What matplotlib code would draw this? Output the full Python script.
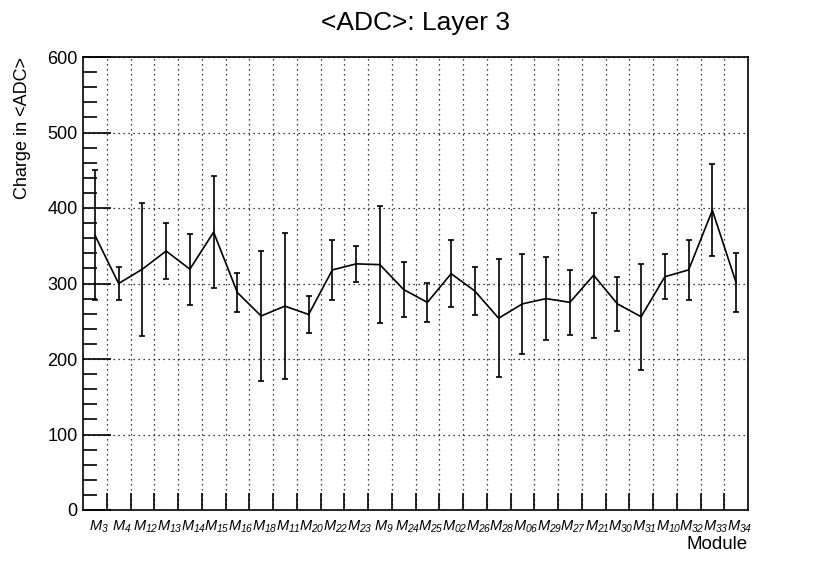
import matplotlib
matplotlib.use("Agg")
import matplotlib.pyplot as plt
from matplotlib.ticker import MultipleLocator, FixedLocator, NullFormatter
import numpy as np

plt.rcParams['font.family'] = ['Liberation Sans', 'DejaVu Sans']
plt.rcParams['mathtext.fontset'] = 'custom'
plt.rcParams['mathtext.rm'] = 'Liberation Sans:italic'
plt.rcParams['mathtext.it'] = 'Liberation Sans:italic'

modules = ["3", "4", "12", "13", "14", "15", "16", "18", "11", "20", "22", "23", "9", "24",
           "25", "02", "26", "28", "06", "29", "27", "21", "30", "31", "10", "32", "33", "34"]
charge = [364, 300, 319, 343, 319, 368, 288, 257, 270, 259, 318, 326, 325, 292,
          275, 313, 290, 254, 273, 280, 275, 311, 273, 256, 309, 318, 397, 301]
charge_err = [86, 22, 88, 37, 47, 74, 26, 86, 97, 24, 40, 24, 77, 36,
              26, 44, 32, 78, 66, 55, 43, 83, 36, 70, 30, 40, 61, 39]

fig = plt.figure(figsize=(8.30, 5.67), dpi=100)
ax = fig.add_axes([83/830, 1 - 510/567, (748-83)/830, (510-57)/567])

n = len(modules)
x = np.arange(n) + 0.5
ax.errorbar(x, charge, yerr=charge_err, color='black', lw=1.2, elinewidth=1.2,
            capsize=2.5, capthick=1.2)

ax.set_xlim(0, n)
ax.set_ylim(0, 600)

# grid
ax.xaxis.set_major_locator(FixedLocator(np.arange(1, n)))
ax.xaxis.set_major_formatter(NullFormatter())
ax.yaxis.set_major_locator(MultipleLocator(100))
ax.yaxis.set_minor_locator(MultipleLocator(20))
ax.grid(True, which='major', color='black', linestyle=(0, (1, 3)), linewidth=0.9)

ax.tick_params(axis='x', which='major', direction='in', length=12, width=1.2, bottom=True, top=False)
ax.tick_params(axis='y', which='major', direction='in', length=20, width=1.2, left=True, right=False,
               labelsize=13, pad=4)
ax.tick_params(axis='y', which='minor', direction='in', length=10, width=1.2, left=True, right=False)

for s in ax.spines.values():
    s.set_linewidth(1.2)

# category labels at bin centres
for xi, m in zip(x, modules):
    ax.text(xi + 0.15, -0.02, r"$M_{%s}$" % m, transform=ax.get_xaxis_transform(),
            ha='center', va='top', fontsize=10.5)

ax.set_xlabel("Module", fontsize=13.5, loc='right', labelpad=15)
ax.set_ylabel("Charge in <ADC>", fontsize=13, loc='top', labelpad=11.5)
fig.text(0.5, 1 - 23/567, "<ADC>: Layer 3", ha='center', va='center', fontsize=19)

fig.savefig("out.png", dpi=100)
